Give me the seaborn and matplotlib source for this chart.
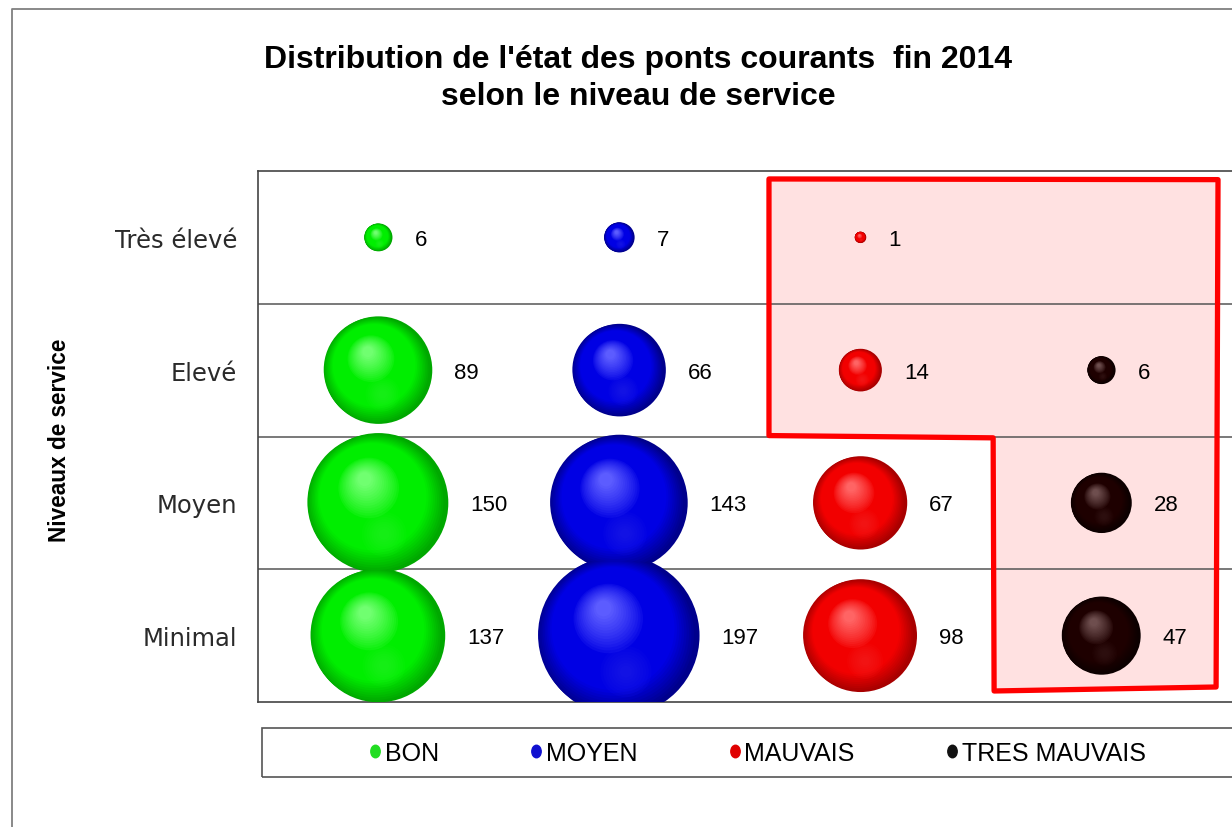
import numpy as np
import pandas as pd
import matplotlib
matplotlib.use("Agg")
import matplotlib.pyplot as plt
import seaborn as sns
from matplotlib.colors import to_rgb
from matplotlib.lines import Line2D
from matplotlib.patches import Polygon, Rectangle
from matplotlib.path import Path

# ---- data -------------------------------------------------------------
levels = ["Minimal", "Moyen", "Elevé", "Très élevé"]
states = ["BON", "MOYEN", "MAUVAIS", "TRES MAUVAIS"]
bon = [137, 150, 89, 6]
moyen = [197, 143, 66, 7]
mauvais = [98, 67, 14, 1]
tres_mauvais = [47, 28, 6, None]

# sphere colours per state: rim, body, highlight
rim_colors = ["#00a800", "#00008c", "#a80000", "#0c0000"]
body_colors = ["#00ee00", "#0000e4", "#f20000", "#1e0000"]
high_colors = ["#70ff70", "#5c5cff", "#ff6464", "#6e4e4e"]

# ---- style ------------------------------------------------------------
sns.set_style("white")
plt.rcParams["font.family"] = ["Liberation Sans", "DejaVu Sans"]
plt.rcParams["text.color"] = "black"

W, H = 1232, 828
fig = plt.figure(figsize=(W / 100, H / 100), dpi=100)
ax = fig.add_axes([258 / W, 1 - 703 / H, (W - 258) / W, (703 - 172) / H])

rows = []
for si, vals in enumerate([bon, moyen, mauvais, tres_mauvais]):
    for li, v in enumerate(vals):
        if v is None:
            continue
        rows.append({"state": states[si], "si": si, "level": li, "value": v})
df = pd.DataFrame(rows)

VMAX = 197
R_MAX_PX = 80.0
S_MAX = (2 * R_MAX_PX * 0.72) ** 2

ax.set_xlim(-0.5, 3.541)
ax.set_ylim(-0.5, 3.5)

# highlighted zone (poor condition)
zone = [(1.62, 3.44), (3.483, 3.435), (3.475, -0.387), (2.554, -0.417),
        (2.55, 1.49), (1.62, 1.507)]
ax.add_patch(Polygon(zone, closed=True, facecolor="#ffe1e1", edgecolor="none", zorder=0.5))
ax.add_patch(Polygon(zone, closed=True, facecolor="none", edgecolor="#ff0000",
                     lw=3.8, joinstyle="round", zorder=2))

# row separators
for yb in [0.5, 1.5, 2.5]:
    ax.axhline(yb, color="#555555", lw=1.1, zorder=1)

# base of the spheres (rim colour), area proportional to the value
sns.scatterplot(data=df, x="si", y="level", hue="state", hue_order=states,
                palette=rim_colors, size="value", sizes=(0, S_MAX),
                size_norm=(0, VMAX), linewidth=0, legend=False, ax=ax, zorder=3)

# shading layers to give the spheres volume
fig.canvas.draw()
inv = ax.transData.inverted()
centers = ax.transData.transform(df[["si", "level"]].to_numpy(dtype=float))
radii = R_MAX_PX * np.sqrt(df["value"].to_numpy(dtype=float) / VMAX)


def mix(c1, c2, t):
    a, b = np.array(to_rgb(c1)), np.array(to_rgb(c2))
    return tuple(a + (b - a) * t)


N = 36
for k in range(N):
    t = k / (N - 1)
    f = 1.0 - 0.9 * t
    if k == 0:
        f = 0.965
    off = np.column_stack([-0.04 - 0.16 * t, 0.34 * t]) * radii[:, None]
    pts = inv.transform(centers + off)
    cols = []
    for si in df["si"]:
        if t < 0.25:
            c = mix(rim_colors[si], body_colors[si], t / 0.25)
        elif t < 0.6:
            c = to_rgb(body_colors[si])
        else:
            c = mix(body_colors[si], high_colors[si], ((t - 0.6) / 0.4) ** 0.8)
        cols.append(c)
    ax.scatter(pts[:, 0], pts[:, 1], s=(2 * f * radii * 0.72) ** 2, c=cols,
               linewidths=0, zorder=3 + 0.01 * k)

# soft lower reflection
for k in range(8):
    off = np.column_stack([0.08 * np.ones_like(radii), -0.45 * np.ones_like(radii)]) * radii[:, None]
    pts = inv.transform(centers + off)
    cols = [mix(body_colors[si], high_colors[si], 0.5) for si in df["si"]]
    ax.scatter(pts[:, 0], pts[:, 1], s=(2 * (0.32 - 0.035 * k) * radii * 0.72) ** 2,
               c=cols, alpha=0.07, linewidths=0, zorder=3.5)

# value labels to the right of each sphere
for (_, row), r in zip(df.iterrows(), radii):
    ax.annotate(str(row["value"]), (row["si"], row["level"]),
                xytext=((r + 22) * 0.72, -1.5), textcoords="offset points",
                ha="left", va="center", fontsize=16, color="black", zorder=6)

# axes cosmetics
ax.set_xticks([])
ax.set_yticks(range(len(levels)))
ax.set_yticklabels(levels, fontsize=17.5, color="#2a2a2a",
                   fontfamily="DejaVu Sans")
ax.tick_params(axis="y", length=0, pad=15)
ax.set_xlabel("")
ax.set_ylabel("")
for side in ["left", "top", "bottom"]:
    ax.spines[side].set_color("#444444")
    ax.spines[side].set_linewidth(1.2)
ax.spines["right"].set_visible(False)

# titles
fig.text(638 / W, 1 - 60 / H, "Distribution de l'état des ponts courants  fin 2014",
         ha="center", va="center", fontsize=23, fontweight="bold")
fig.text(638 / W, 1 - 97 / H, "selon le niveau de service",
         ha="center", va="center", fontsize=23, fontweight="bold")
fig.text(60 / W, 1 - 440 / H, "Niveaux de service", rotation=90,
         ha="center", va="center", fontsize=16.3, fontweight="bold")

# legend
ell = Path.unit_circle().transformed(matplotlib.transforms.Affine2D().scale(0.75, 1.0))
handles = [Line2D([], [], marker=ell, linestyle="none", markersize=9,
                  markerfacecolor=c, markeredgecolor=c) for c in
           ["#22dd22", "#1010d0", "#e00000", "#111111"]]
fig.legend(handles, states, loc="center", bbox_to_anchor=(757 / W, 1 - 754 / H),
           ncol=4, frameon=False, fontsize=18, handlelength=0.55,
           handletextpad=0.12, columnspacing=3.6, borderpad=0)
fig.add_artist(Rectangle((262 / W, 1 - 778 / H), 1.0, 49 / H,
                         transform=fig.transFigure, fill=False,
                         edgecolor="#555555", lw=1.2))

# outer frame
fig.add_artist(Line2D([12 / W, 12 / W, 1.01], [-0.01, 1 - 10 / H, 1 - 10 / H],
                      transform=fig.transFigure, color="#808080", lw=1.3))

fig.savefig("out.png", dpi=100)
